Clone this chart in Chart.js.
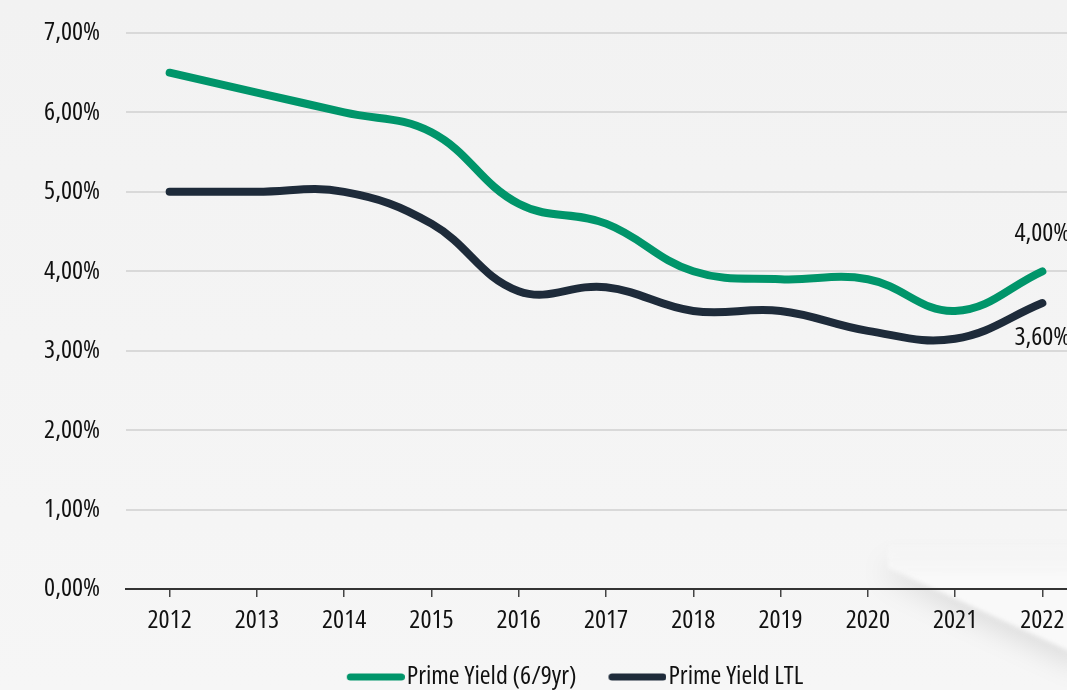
<!DOCTYPE html>
<html>
<head>
<meta charset="utf-8">
<script src="https://cdn.jsdelivr.net/npm/chart.js@4/dist/chart.umd.min.js"></script>
<style>
  html, body { margin: 0; padding: 0; overflow: hidden; }
  body { width: 1067px; height: 690px; background: linear-gradient(#f2f2f2, #f6f6f6); position: relative; }
  #folha { position: absolute; left: 888px; top: 545px; width: 200px; height: 140px; filter: drop-shadow(-4px 12px 12px rgba(0,0,0,0.09)) blur(2px); }
  #folha div { width: 100%; height: 100%; background: linear-gradient(rgba(249,249,249,0.3), #f9f9f9 25%); clip-path: polygon(0 0, 100% 0, 100% 82%, 0 16%); }
  #wrap { width: 1086px; height: 690px; position: relative; }
</style>
</head>
<body>
<div id="folha"><div></div></div>
<div id="wrap"><canvas id="grafico"></canvas></div>
<script>
  const anos = ['2012', '2013', '2014', '2015', '2016', '2017', '2018', '2019', '2020', '2021', '2022'];
  const primeYield = [6.5, 6.25, 6.0, 5.75, 4.85, 4.6, 4.0, 3.9, 3.9, 3.5, 4.0];
  const primeYieldLTL = [5.0, 5.0, 5.0, 4.6, 3.75, 3.8, 3.5, 3.5, 3.25, 3.15, 3.6];
  const nomesSeries = ['Prime Yield (6/9yr)', 'Prime Yield LTL'];
  const cores = ['#00956a', '#1e2b3a'];

  const fmt = v => v.toFixed(2).replace('.', ',') + '%';

  // fonte estreita: Open Sans com font-stretch condensed
  Chart.defaults.font.family = "'Open Sans', sans-serif";
  Chart.defaults.font.weight = 'condensed';
  Chart.defaults.font.size = 26;
  Chart.defaults.color = '#111';

  // símbolo da legenda: traço arredondado, com folga transparente à esquerda
  function simboloLegenda(cor) {
    const c = document.createElement('canvas');
    c.width = 93; c.height = 8;
    const g = c.getContext('2d');
    g.strokeStyle = cor;
    g.lineWidth = 7;
    g.lineCap = 'round';
    g.beginPath();
    g.moveTo(38.5, 4);
    g.lineTo(89.5, 4);
    g.stroke();
    return c;
  }

  // rótulos do último ponto (acima / abaixo)
  const rotulosFinais = {
    id: 'rotulosFinais',
    afterDatasetsDraw(chart) {
      const ctx = chart.ctx;
      ctx.save();
      ctx.font = "condensed 26px 'Open Sans', sans-serif";
      ctx.fillStyle = '#111';
      ctx.textAlign = 'center';
      ctx.textBaseline = 'middle';
      chart.data.datasets.forEach((ds, i) => {
        const pts = chart.getDatasetMeta(i).data;
        const p = pts[pts.length - 1];
        const dy = i === 0 ? -38 : 35;
        ctx.fillText(fmt(ds.data[ds.data.length - 1]), p.x, p.y + dy);
      });
      ctx.restore();
    }
  };

  new Chart(document.getElementById('grafico'), {
    type: 'line',
    data: {
      labels: anos,
      datasets: [
        { label: nomesSeries[0], data: primeYield, borderColor: cores[0], backgroundColor: cores[0], pointStyle: simboloLegenda(cores[0]) },
        { label: nomesSeries[1], data: primeYieldLTL, borderColor: cores[1], backgroundColor: cores[1], pointStyle: simboloLegenda(cores[1]) }
      ]
    },
    options: {
      responsive: true,
      maintainAspectRatio: false,
      animation: false,
      elements: {
        line: { borderWidth: 8, tension: 0.4, borderCapStyle: 'round' },
        point: { radius: 0 }
      },
      layout: { padding: { top: 33, left: 40, right: 0, bottom: -10 } },
      plugins: {
        legend: {
          position: 'bottom',
          labels: { usePointStyle: true, pointStyleWidth: 71, padding: 8, color: '#111' }
        },
        tooltip: { enabled: false }
      },
      scales: {
        x: {
          offset: true,
          grid: { drawOnChartArea: false, tickLength: 8, color: '#444', lineWidth: 1.5 },
          border: { color: '#333', width: 2 },
          ticks: { padding: 8, color: '#111' },
          afterFit(scale) { scale.height = 67; }
        },
        y: {
          min: 0,
          max: 7,
          ticks: { stepSize: 1, padding: 17, callback: v => fmt(v), color: '#111' },
          grid: { color: '#d9d9d9', lineWidth: 2, tickLength: 9, tickColor: 'transparent' },
          border: { display: false },
          afterFit(scale) { scale.width = 86; }
        }
      }
    },
    plugins: [rotulosFinais]
  });
</script>
</body>
</html>
